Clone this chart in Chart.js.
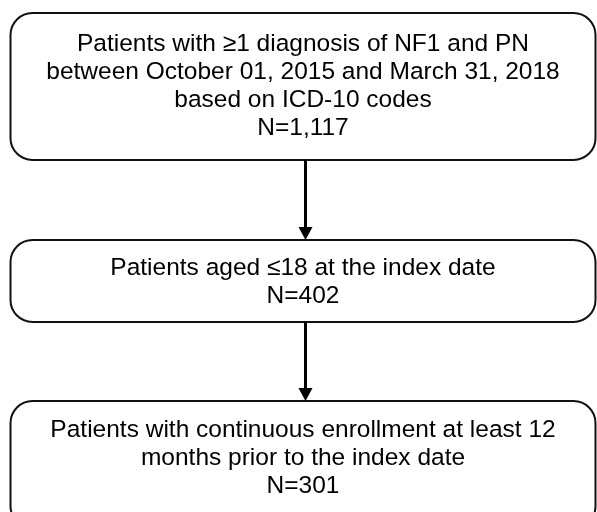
<!DOCTYPE html>
<html>
<head>
<meta charset="utf-8">
<script src="https://cdn.jsdelivr.net/npm/chart.js@4/dist/chart.umd.min.js"></script>
<style>
  html, body { margin: 0; padding: 0; background: #ffffff; }
  #wrap { width: 597px; height: 512px; }
</style>
</head>
<body>
<div id="wrap"><canvas id="c" width="597" height="512"></canvas></div>
<script>
// ---- Data ----
const stageLines = [
  ["Patients with \u22651 diagnosis of NF1 and PN", "between October 01, 2015 and March 31, 2018", "based on ICD-10 codes"],
  ["Patients aged \u226418 at the index date"],
  ["Patients with continuous enrollment at least 12", "months prior to the index date"]
];
const stageCounts = [1117, 402, 301];

// ---- Layout (scale units: x 0..597, y 0..512 top-down) ----
const boxLeft = 10.5, boxRight = 595.5;
const boxTops = [13, 240, 401];
const boxBottoms = [160, 322, 528];
const firstBaselines = [51, 275, 437];
const lineStep = 28;
const arrowX = 305.5;

const flowPlugin = {
  id: 'flow',
  afterDraw(chart) {
    const ctx = chart.ctx;
    const xs = chart.scales.x, ys = chart.scales.y;
    ctx.save();
    // boxes
    ctx.strokeStyle = '#111111';
    ctx.lineWidth = 2;
    for (let i = 0; i < stageLines.length; i++) {
      const x0 = xs.getPixelForValue(boxLeft), x1 = xs.getPixelForValue(boxRight);
      const y0 = ys.getPixelForValue(boxTops[i]), y1 = ys.getPixelForValue(boxBottoms[i]);
      ctx.beginPath();
      ctx.roundRect(x0, y0, x1 - x0, y1 - y0, 22);
      ctx.stroke();
      // text
      const lines = stageLines[i].concat(["N=" + stageCounts[i].toLocaleString('en-US')]);
      ctx.fillStyle = '#000000';
      ctx.font = '24.5px "Liberation Sans", Arial, sans-serif';
      ctx.textAlign = 'center';
      ctx.textBaseline = 'alphabetic';
      const cx = (x0 + x1) / 2;
      lines.forEach((t, k) => {
        ctx.fillText(t, cx, ys.getPixelForValue(firstBaselines[i] + k * lineStep));
      });
    }
    // arrows
    ctx.fillStyle = '#000000';
    ctx.strokeStyle = '#000000';
    for (let i = 0; i < stageLines.length - 1; i++) {
      const ax = xs.getPixelForValue(arrowX);
      const yStart = ys.getPixelForValue(boxBottoms[i]);
      const yEnd = ys.getPixelForValue(boxTops[i + 1]);
      ctx.lineWidth = 3;
      ctx.beginPath();
      ctx.moveTo(ax, yStart);
      ctx.lineTo(ax, yEnd - 10);
      ctx.stroke();
      ctx.beginPath();
      ctx.moveTo(ax - 7, yEnd - 13);
      ctx.lineTo(ax + 7, yEnd - 13);
      ctx.lineTo(ax, yEnd);
      ctx.closePath();
      ctx.fill();
    }
    ctx.restore();
  }
};

new Chart(document.getElementById('c'), {
  type: 'scatter',
  data: { datasets: [{ data: [], pointRadius: 0 }] },
  options: {
    responsive: false,
    animation: false,
    devicePixelRatio: 1,
    layout: { padding: 0 },
    plugins: { legend: { display: false }, tooltip: { enabled: false } },
    scales: {
      x: { type: 'linear', min: 0, max: 597, display: false },
      y: { type: 'linear', min: 0, max: 512, reverse: true, display: false }
    }
  },
  plugins: [flowPlugin]
});
</script>
</body>
</html>
